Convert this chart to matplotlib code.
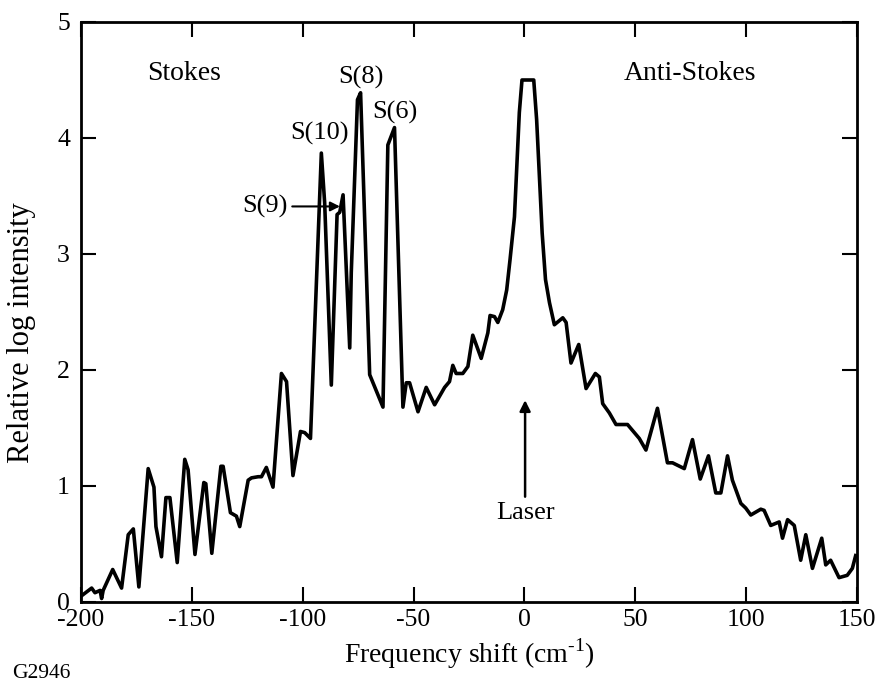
import matplotlib
matplotlib.use("Agg")
import matplotlib.pyplot as plt

plt.rcParams['font.family'] = ['Liberation Serif', 'DejaVu Serif']
plt.rcParams['mathtext.fontset'] = 'custom'
plt.rcParams['mathtext.rm'] = 'Liberation Serif'
plt.rcParams['axes.unicode_minus'] = False

shift = [-200, -195.2, -193.7, -191.4, -190.7, -190, -185.7, -181.7, -178.7, -176.4,
         -173.9, -169.7, -167.1, -166.2, -163.7, -161.7, -159.9, -156.6, -153.2, -151.7,
         -148.6, -144.6, -143.7, -141, -136.9, -135.9, -132.6, -129.9, -128.4, -124.6,
         -123.1, -120.1, -118.6, -116.4, -113.4, -109.6, -107.3, -104.4, -101, -99.1,
         -96.5, -91.6, -90.1, -87.1, -84.5, -83.3, -81.8, -78.8, -78.1, -75.3,
         -73.9, -69.8, -63.8, -61.6, -58.6, -54.8, -53.3, -51.8, -48, -44.3,
         -40.5, -36, -33.8, -32.3, -30.8, -27.8, -25.5, -23.3, -19.5, -16.5,
         -15.5, -13.5, -12, -9.8, -8, -6.5, -4.5, -3.3, -2.3, -1.1,
         4.2, 5.5, 6.8, 8, 9.5, 11.3, 13.5, 17.3, 18.8, 21,
         24.5, 27.8, 32, 33.8, 35.3, 38.3, 41.3, 46.5, 51.8, 54.8,
         60, 64.5, 66.8, 72.1, 75.8, 79.3, 83, 86.3, 88.6, 91.6,
         93.8, 97.6, 99.8, 102.1, 106.6, 108.1, 111.1, 114.9, 116.4, 118.7,
         121.7, 124.6, 126.9, 129.9, 134.1, 135.9, 138.1, 141.9, 145.6, 147.9,
         149.4]
intensity = [0.05, 0.12, 0.08, 0.10, 0.03, 0.10, 0.28, 0.12, 0.58, 0.63,
             0.13, 1.15, 0.99, 0.65, 0.39, 0.90, 0.90, 0.34, 1.23, 1.14,
             0.41, 1.03, 1.02, 0.42, 1.17, 1.17, 0.77, 0.74, 0.65, 1.05,
             1.07, 1.08, 1.08, 1.16, 0.99, 1.97, 1.90, 1.09, 1.47, 1.46,
             1.41, 3.87, 3.44, 1.87, 3.34, 3.36, 3.51, 2.19, 2.84, 4.33,
             4.39, 1.96, 1.68, 3.94, 4.09, 1.68, 1.89, 1.89, 1.64, 1.85,
             1.70, 1.85, 1.90, 2.04, 1.97, 1.97, 2.03, 2.30, 2.10, 2.32,
             2.47, 2.46, 2.41, 2.52, 2.69, 2.95, 3.32, 3.81, 4.22, 4.50,
             4.50, 4.16, 3.64, 3.18, 2.78, 2.58, 2.39, 2.45, 2.41, 2.06,
             2.22, 1.84, 1.97, 1.94, 1.71, 1.63, 1.53, 1.53, 1.41, 1.31,
             1.67, 1.20, 1.20, 1.15, 1.40, 1.06, 1.26, 0.94, 0.94, 1.26,
             1.05, 0.85, 0.81, 0.75, 0.80, 0.79, 0.66, 0.69, 0.55, 0.71,
             0.66, 0.36, 0.58, 0.29, 0.55, 0.32, 0.36, 0.21, 0.23, 0.29,
             0.40]

xticks = [-200, -150, -100, -50, 0, 50, 100, 150]
yticks = [0, 1, 2, 3, 4, 5]

fig = plt.figure(figsize=(8.79, 6.87), dpi=100)
ax = fig.add_axes([81/879, 1-602/687, (857-81)/879, (602-22)/687])
ax.plot(shift, intensity, color='black', lw=2.6, solid_joinstyle='round')
ax.set_xlim(-200, 150)
ax.set_ylim(0, 5)
ax.set_xticks(xticks)
ax.set_yticks(yticks)
ax.tick_params(direction='in', top=True, right=True, length=11, width=1.5,
               labelsize=18.5)
ax.tick_params(axis='x', pad=5)
ax.tick_params(axis='y', pad=8)
for s in ax.spines.values():
    s.set_linewidth(2)
ax.set_xlabel('Frequency shift (cm$^{\\text{-1}}$)', fontsize=20, labelpad=4)
ax.set_ylabel('Relative log intensity', fontsize=22)
ax.yaxis.set_label_coords(-0.058, 0.464)

ax.text(-170.2, 4.56, 'Stokes', fontsize=20, ha='left', va='center')
ax.text(74.7, 4.56, 'Anti-Stokes', fontsize=20, ha='center', va='center')
ax.text(-73.7, 4.52, 'S(8)', fontsize=19, ha='center', va='center')
ax.text(-58.4, 4.22, 'S(6)', fontsize=19, ha='center', va='center')
ax.text(-92.6, 4.04, 'S(10)', fontsize=19, ha='center', va='center')
ax.annotate('S(9)', xy=(-83.2, 3.41), xytext=(-106.6, 3.41), fontsize=19,
            ha='right', va='center',
            arrowprops=dict(arrowstyle='-|>', color='black', lw=1.5,
                            mutation_scale=14, shrinkA=1, shrinkB=0))
ax.annotate('Laser', xy=(0.3, 1.74), xytext=(0.3, 0.86), fontsize=19,
            ha='center', va='top',
            arrowprops=dict(arrowstyle='-|>', color='black', lw=1.8,
                            mutation_scale=16, shrinkA=2, shrinkB=0))
fig.text(12/879, 1-674/687, 'G2946', fontsize=15.5, ha='left', va='center')

fig.savefig('out.png', dpi=100)
